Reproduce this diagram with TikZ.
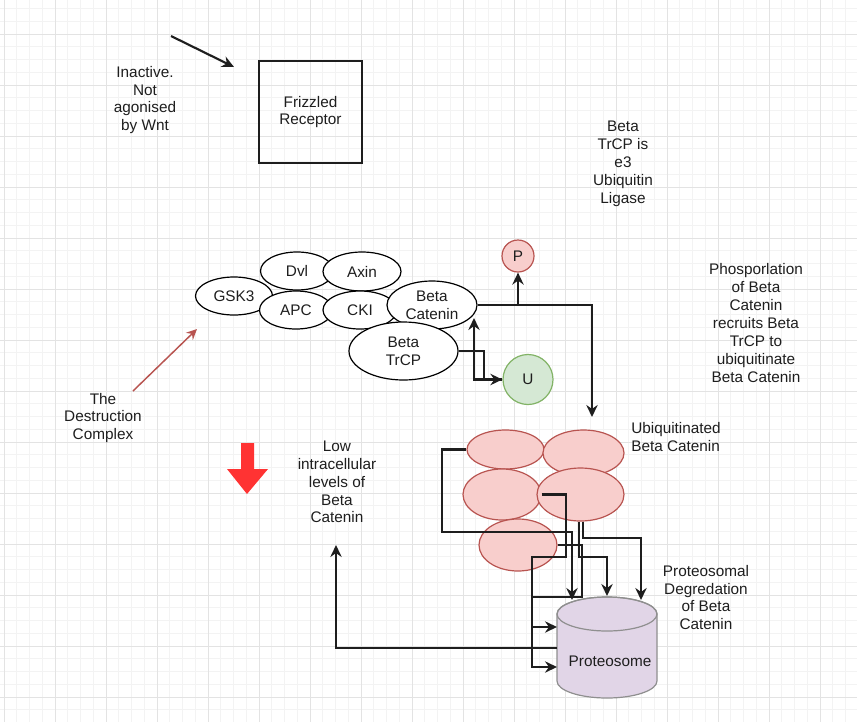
\documentclass[tikz,border=0pt]{standalone}
\usepackage{fontspec}
\setmainfont{Liberation Sans}
\usetikzlibrary{arrows.meta,shapes.geometric}
\definecolor{gridminor}{HTML}{F3F3F3}
\definecolor{gridmajor}{HTML}{E3E3E3}
\definecolor{redfill}{HTML}{F8CECC}
\definecolor{redline}{HTML}{B85450}
\definecolor{greenfill}{HTML}{D5E8D4}
\definecolor{greenline}{HTML}{82B366}
\definecolor{purplefill}{HTML}{E1D5E7}
\definecolor{cylline}{HTML}{8F8F8F}
\definecolor{ink}{HTML}{1E1E1E}
\definecolor{blockred}{HTML}{FF3333}
\begin{document}
\begin{tikzpicture}[x=0.75pt,y=-0.75pt,
  every node/.style={font=\fontsize{11.5pt}{13.4pt}\selectfont, text=ink, inner sep=0pt, align=center},
  ell/.style={ellipse, draw=black, fill=white, line width=0.9pt},
  uell/.style={ellipse, draw=redline, fill=redfill, line width=0.9pt},
  conn/.style={draw=ink, line width=1.6pt, -{Stealth[length=9pt,width=8.5pt,inset=3pt]}},
  gminor/.style={draw=gridminor, line width=0.75pt},
  gmajor/.style={draw=gridmajor, line width=0.75pt}]
\useasboundingbox (0,0) rectangle (857,722);
\fill[white] (0,0) rectangle (857,722);
% grid
\foreach \k in {0,...,66} \draw[gminor] ({4+12.75*\k},0) -- ({4+12.75*\k},722);
\foreach \k in {0,...,55} \draw[gminor] (0,{8.5+12.75*\k}) -- (857,{8.5+12.75*\k});
\foreach \k in {0,...,16} \draw[gmajor] ({4+51*\k},0) -- ({4+51*\k},722);
\foreach \k in {0,...,13} \draw[gmajor] (0,{34+51*\k}) -- (857,{34+51*\k});

% Frizzled receptor
\node[draw=ink, line width=1.6pt, minimum width=77.25pt, minimum height=76.5pt] (fz) at (310.5,112) {Frizzled\\Receptor};
\coordinate (wa) at (171,36);
\coordinate (wb) at (234,67);
\draw[conn] (wa) -- (wb);
\node (inact) at (145,100) {Inactive.\\Not\\agonised\\by Wnt};

% destruction complex
\node[ell, minimum width=57.75pt, minimum height=28.5pt] (gsk) at (234,296) {GSK3};
\node[ell, minimum width=54.75pt, minimum height=28.5pt] (dvl) at (297,271) {Dvl};
\node[ell, minimum width=54.75pt, minimum height=28.5pt] (apc) at (296,310) {APC};
\node[ell, minimum width=58.5pt, minimum height=29.25pt] (axin) at (362,271.5) {Axin};
\node[ell, minimum width=55.5pt, minimum height=28.5pt] (cki) at (360,310) {CKI};
\node[ell, minimum width=67.5pt, minimum height=36pt] (bc) at (432,305) {Beta\\Catenin};
\node[ell, minimum width=81.75pt, minimum height=43.5pt] (trcp) at (403.5,351) {Beta\\TrCP};

\node[circle, draw=redline, fill=redfill, line width=0.9pt, minimum size=24pt] (p) at (518,256) {P};
\node[circle, draw=greenline, fill=greenfill, line width=0.9pt, minimum size=37.5pt] (u) at (528,379.5) {U};

\node (dctext) at (103,418) {The\\Destruction\\Complex};
\coordinate (dca) at (133,391);
\coordinate (dcb) at (197,329);
\draw[draw=redline, line width=1.1pt, -{Stealth[length=8pt,width=7.5pt,inset=2.8pt]}] (dca) -- (dcb);

\node (ligase) at (623,164) {Beta\\TrCP is\\e3\\Ubiquitin\\Ligase};
\node (phos) at (756,323) {Phosporlation\\of Beta\\Catenin\\recruits Beta\\TrCP to\\ubiquitinate\\Beta Catenin};

% block arrow
\fill[blockred] (241,443) -- (254,443) -- (254,469) -- (268,469) -- (247,494) -- (227,469) -- (241,469) -- cycle;
\node (low) at (337,482) {Low\\intracellular\\levels of\\Beta\\Catenin};

% ubiquitinated beta catenin
\node[uell, minimum width=57.75pt, minimum height=29.25pt] (e1) at (505.5,449.5) {};
\node[uell, minimum width=60.75pt, minimum height=34.5pt] (e2) at (583.5,453) {};
\node[uell, minimum width=58.5pt, minimum height=38.25pt] (e3) at (502,494.5) {};
\node[uell, minimum width=65.25pt, minimum height=39.75pt] (e4) at (580.5,494.5) {};
\node[uell, minimum width=58.5pt, minimum height=39pt] (e5) at (518,545) {};
\node[anchor=west, align=left] (ubtext) at (631,437) {Ubiquitinated\\Beta Catenin};

% proteosome
\node[minimum width=75pt, minimum height=75.75pt] (prot) at (607,647.5) {};
\filldraw[fill=purplefill, draw=cylline, line width=0.9pt] (557,614) -- (557,681) arc[start angle=180, end angle=360, x radius=37.5pt, y radius=12.75pt] -- (657,614) arc[start angle=0, end angle=180, x radius=37.5pt, y radius=12.75pt] -- cycle;
\draw[draw=cylline, line width=0.9pt] (607,614) ellipse[x radius=37.5pt, y radius=12.75pt];
\node (protlbl) at (610,661) {Proteosome};
\node (degr) at (706,597.5) {Proteosomal\\Degredation\\of Beta\\Catenin};

% connectors in complex
\coordinate (catend) at (592,417);
\coordinate (bcin) at (474,318);
\draw[conn] (bc.east) -| (p.south);
\draw[conn] (bc.east) -| (catend);
\draw[conn] (trcp.east) -- ++(25,0) |- (u.west);
\draw[conn] (u.west) -| (bcin);

% connectors to proteosome
\coordinate (pt1) at (572,600);
\coordinate (pt2) at (607,596);
\coordinate (pt3) at (641,600);
\coordinate (pl1) at (557,627);
\coordinate (pl2) at (557,667);
\coordinate (pout) at (557,648);
\coordinate (lowtip) at (336,545);
\draw[conn] (e1.west) -| (442,532) -| (pt1);
\draw[conn] (e3.east) -| (566,557) -| (532,667) -- (pl2);
\draw[conn] (e5.east) -| (582,597) -| (532,627) -- (pl1);
\draw[conn] ([xshift=-1.1pt]e4.south) |- (607,557) -- (pt2);
\draw[conn] ([xshift=1.9pt]e4.south) |- (641,538) -- (pt3);
\draw[conn] (pout) -| (lowtip);
\end{tikzpicture}
\end{document}
